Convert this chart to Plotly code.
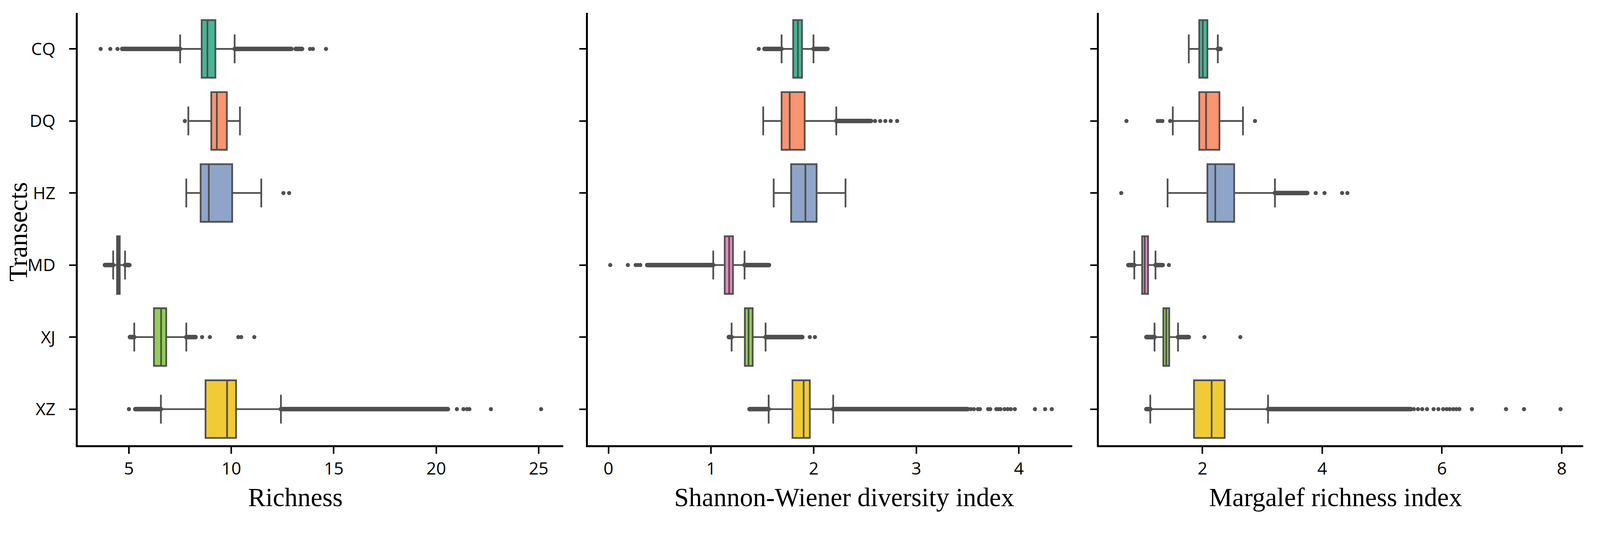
import plotly.graph_objects as go

# reference picture size; the rendered page comes out ~4% larger, so the figure is drawn smaller
W0, H0 = 4244, 1375
S = 1.042
W, H = round(W0 / S), round(H0 / S)

transects = ['CQ', 'DQ', 'HZ', 'MD', 'XJ', 'XZ']
box_colors = ['#45b797', '#fc9470', '#8fa4c9', '#ea88c0', '#92cf52', '#f1cb36']

# Richness
rich_q1 = [8.55, 9.02, 8.50, 4.42, 6.22, 8.74]
rich_med = [8.83, 9.29, 8.90, 4.49, 6.57, 9.79]
rich_q3 = [9.22, 9.78, 10.04, 4.55, 6.82, 10.23]
rich_lo = [7.50, 7.90, 7.80, 4.23, 5.26, 6.56]
rich_hi = [10.16, 10.42, 11.46, 4.81, 7.80, 12.42]
# dense runs of outliers (drawn as a thick strand)
rich_band_cat = ['CQ', 'CQ', 'CQ', 'MD', 'MD', 'XJ', 'XJ', 'XZ', 'XZ']
rich_band_from = [4.67, 10.16, 13.14, 3.83, 4.81, 5.05, 7.80, 5.31, 12.42]
rich_band_to = [7.50, 12.93, 13.45, 4.23, 5.02, 5.26, 8.25, 6.56, 20.57]
# isolated outliers
rich_pt_cat = ['CQ', 'CQ', 'CQ', 'CQ', 'CQ', 'CQ', 'DQ', 'HZ', 'HZ',
               'XJ', 'XJ', 'XJ', 'XJ', 'XJ',
               'XZ', 'XZ', 'XZ', 'XZ', 'XZ', 'XZ', 'XZ']
rich_pt_val = [3.62, 4.09, 4.44, 13.84, 13.98, 14.62, 7.73, 12.54, 12.82,
               8.57, 8.95, 10.34, 10.48, 11.12,
               5.00, 21.01, 21.33, 21.50, 21.62, 22.67, 25.12]

# Shannon-Wiener
shan_q1 = [1.800, 1.687, 1.780, 1.133, 1.329, 1.793]
shan_med = [1.846, 1.766, 1.919, 1.176, 1.365, 1.902]
shan_q3 = [1.886, 1.912, 2.028, 1.213, 1.405, 1.962]
shan_lo = [1.687, 1.508, 1.610, 1.021, 1.200, 1.561]
shan_hi = [1.998, 2.220, 2.310, 1.326, 1.531, 2.190]
shan_band_cat = ['CQ', 'CQ', 'DQ', 'MD', 'MD', 'XJ', 'XJ', 'XZ', 'XZ']
shan_band_from = [1.520, 1.998, 2.220, 0.378, 1.326, 1.173, 1.531, 1.375, 2.190]
shan_band_to = [1.687, 2.134, 2.558, 1.021, 1.564, 1.200, 1.889, 1.561, 3.500]
shan_pt_cat = ['CQ', 'DQ', 'DQ', 'DQ', 'DQ', 'DQ',
               'MD', 'MD', 'MD', 'MD', 'MD', 'XJ', 'XJ',
               'XZ', 'XZ', 'XZ', 'XZ', 'XZ', 'XZ', 'XZ', 'XZ', 'XZ', 'XZ',
               'XZ', 'XZ', 'XZ', 'XZ', 'XZ', 'XZ']
shan_pt_val = [1.465, 2.598, 2.648, 2.698, 2.750, 2.813,
               0.017, 0.189, 0.265, 0.288, 0.310, 1.962, 2.012,
               3.53, 3.56, 3.60, 3.62, 3.70, 3.72, 3.78, 3.80, 3.82, 3.86,
               3.89, 3.92, 3.96, 4.156, 4.255, 4.320]

# Margalef
marg_q1 = [1.946, 1.946, 2.082, 0.992, 1.346, 1.858]
marg_med = [2.005, 2.060, 2.213, 1.035, 1.395, 2.153]
marg_q3 = [2.082, 2.283, 2.529, 1.090, 1.444, 2.371]
marg_lo = [1.771, 1.504, 1.417, 0.861, 1.199, 1.128]
marg_hi = [2.256, 2.676, 3.210, 1.215, 1.591, 3.095]
marg_band_cat = ['CQ', 'HZ', 'MD', 'MD', 'XJ', 'XJ', 'XZ', 'XZ']
marg_band_from = [2.256, 3.210, 0.763, 1.215, 1.063, 1.591, 1.063, 3.095]
marg_band_to = [2.300, 3.749, 0.861, 1.335, 1.199, 1.771, 1.128, 5.480]
marg_pt_cat = ['DQ', 'DQ', 'DQ', 'DQ', 'DQ', 'DQ',
               'HZ', 'HZ', 'HZ', 'HZ', 'HZ', 'MD', 'XJ', 'XJ',
               'XZ', 'XZ', 'XZ', 'XZ', 'XZ', 'XZ', 'XZ', 'XZ', 'XZ', 'XZ',
               'XZ', 'XZ', 'XZ', 'XZ', 'XZ', 'XZ']
marg_pt_val = [0.730, 1.253, 1.292, 1.330, 1.460, 2.877,
               0.643, 3.891, 4.038, 4.332, 4.420, 1.439, 2.033, 2.632,
               5.53, 5.60, 5.67, 5.75, 5.86, 5.94, 6.02, 6.08, 6.13, 6.19,
               6.24, 6.29, 6.50, 7.07, 7.37, 7.98]

LINE = '#4f4f4f'


def px(v):
    return v / S


fig = go.Figure()


def add_panel(n, q1, med, q3, lo, hi, band_cat, band_from, band_to, pt_cat, pt_val):
    xa = 'x' if n == 1 else f'x{n}'
    ya = 'y' if n == 1 else f'y{n}'
    for i, t in enumerate(transects):
        fig.add_trace(go.Box(
            y=[t], q1=[q1[i]], median=[med[i]], q3=[q3[i]],
            lowerfence=[lo[i]], upperfence=[hi[i]],
            orientation='h', width=0.8, whiskerwidth=0.5,
            fillcolor=box_colors[i], line=dict(color=LINE, width=px(4.6)),
            boxpoints=False, showlegend=False, xaxis=xa, yaxis=ya,
        ))
    bx, by = [], []
    for c, a, b in zip(band_cat, band_from, band_to):
        bx += [a, b, None]
        by += [c, c, None]
    fig.add_trace(go.Scatter(
        x=bx, y=by, mode='lines+markers',
        line=dict(color=LINE, width=px(12)),
        marker=dict(color=LINE, size=px(12), symbol='circle'),
        showlegend=False, xaxis=xa, yaxis=ya,
    ))
    fig.add_trace(go.Scatter(
        x=pt_val, y=pt_cat, mode='markers',
        marker=dict(color=LINE, size=px(11), symbol='circle'),
        showlegend=False, xaxis=xa, yaxis=ya,
    ))


add_panel(1, rich_q1, rich_med, rich_q3, rich_lo, rich_hi,
          rich_band_cat, rich_band_from, rich_band_to, rich_pt_cat, rich_pt_val)
add_panel(2, shan_q1, shan_med, shan_q3, shan_lo, shan_hi,
          shan_band_cat, shan_band_from, shan_band_to, shan_pt_cat, shan_pt_val)
add_panel(3, marg_q1, marg_med, marg_q3, marg_lo, marg_hi,
          marg_band_cat, marg_band_from, marg_band_to, marg_pt_cat, marg_pt_val)

tick_font = dict(family='Open Sans', size=px(46), color='black')
title_font = dict(family='Liberation Serif', size=px(70), color='black')

x_common = dict(showline=True, linecolor='black', linewidth=px(5), ticks='outside',
                ticklen=px(18), tickwidth=px(4), tickcolor='black', showgrid=False,
                zeroline=False, tickfont=tick_font, automargin=False)
y_common = dict(type='category', categoryorder='array', categoryarray=transects,
                range=[5.5, -0.5], showline=True, linecolor='black', linewidth=px(5),
                ticks='outside', ticklen=px(18), tickwidth=px(4), tickcolor='black',
                showgrid=False, zeroline=False, tickfont=tick_font, automargin=False)

ydom = [1 - 1179 / H0, 1 - 26 / H0]
fig.update_layout(
    width=W, height=H, margin=dict(l=0, r=0, t=0, b=0),
    paper_bgcolor='white', plot_bgcolor='white', boxmode='overlay',
    xaxis=dict(domain=[199 / W0, 1494 / W0], range=[2.5, 26.2], tickvals=[5, 10, 15, 20, 25],
               anchor='y', **x_common),
    xaxis2=dict(domain=[1560 / W0, 2852 / W0], range=[-0.2, 4.52], tickvals=[0, 1, 2, 3, 4],
                anchor='y2', **x_common),
    xaxis3=dict(domain=[2923 / W0, 4215 / W0], range=[0.27, 8.36], tickvals=[2, 4, 6, 8],
                anchor='y3', **x_common),
    yaxis=dict(domain=ydom, anchor='x', ticklabelstandoff=round(px(27)), **y_common),
    yaxis2=dict(domain=ydom, anchor='x2', showticklabels=False, **y_common),
    yaxis3=dict(domain=ydom, anchor='x3', showticklabels=False, **y_common),
)

titles = [('Richness', 780), ('Shannon-Wiener diversity index', 2243),
          ('Margalef richness index', 3554)]
for text, xpos in titles:
    fig.add_annotation(text=text, x=xpos / W0, y=1 - 1318 / H0, xref='paper', yref='paper',
                       xanchor='center', yanchor='middle', showarrow=False, font=title_font)
fig.add_annotation(text='Transects', x=40 / W0, y=1 - 610 / H0, xref='paper', yref='paper',
                   xanchor='center', yanchor='middle', textangle=-90, showarrow=False,
                   font=title_font)

fig.write_html('out.html')
